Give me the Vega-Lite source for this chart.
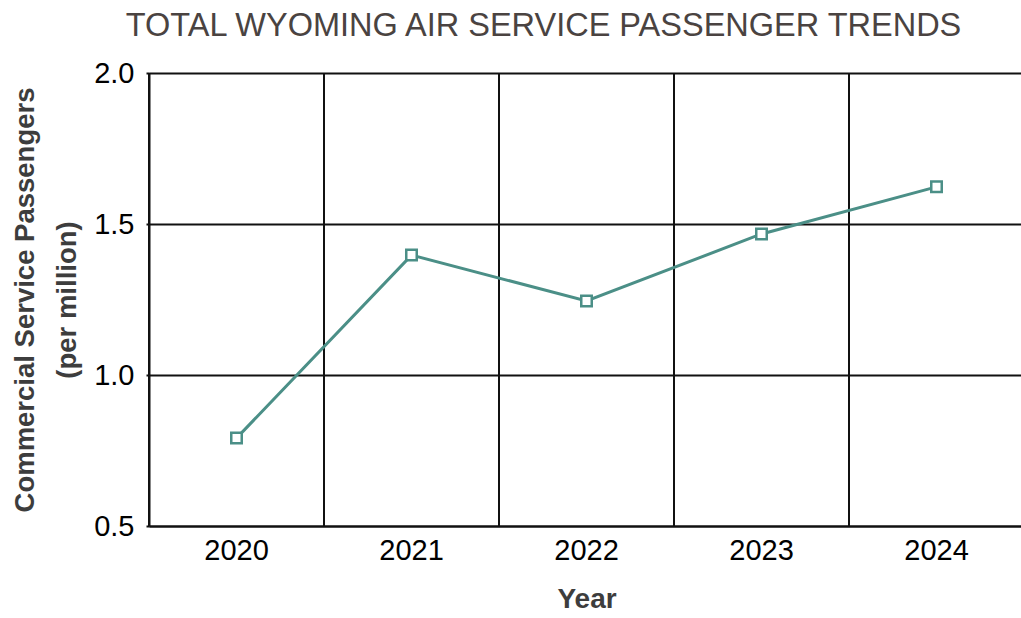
{
  "$schema": "https://vega.github.io/schema/vega-lite/v6.json",
  "width": 875,
  "height": 453,
  "autosize": {"type": "none"},
  "padding": {"left": 149, "top": 73, "right": 0, "bottom": 92},
  "background": "white",
  "config": {
    "view": {"stroke": null},
    "font": "Liberation Sans, Arial, sans-serif"
  },
  "title": {
    "text": "TOTAL WYOMING AIR SERVICE PASSENGER TRENDS",
    "font": "Liberation Sans, Arial, sans-serif",
    "fontSize": 32.5,
    "fontWeight": "normal",
    "color": "#4a4341",
    "anchor": "middle",
    "dx": -43,
    "offset": 17
  },
  "data": {
    "values": [
      {"year": "2020", "passengers": 0.791},
      {"year": "2021", "passengers": 1.397},
      {"year": "2022", "passengers": 1.245},
      {"year": "2023", "passengers": 1.467},
      {"year": "2024", "passengers": 1.623}
    ]
  },
  "layer": [
    {
      "mark": {"type": "rule", "color": "#111111", "strokeWidth": 2},
      "encoding": {
        "x": {
          "field": "year",
          "type": "ordinal",
          "bandPosition": 0,
          "title": "Year",
          "scale": {"type": "band", "paddingInner": 0, "paddingOuter": 0},
          "axis": {"bandPosition": 0.5}
        }
      }
    },
    {
      "mark": {"type": "line", "color": "#4b8f87", "strokeWidth": 3},
      "encoding": {
        "x": {
          "field": "year",
          "type": "ordinal",
          "title": "Year",
          "scale": {"type": "band", "paddingInner": 0, "paddingOuter": 0},
          "axis": {
            "bandPosition": 0.5,
            "labelAngle": 0,
            "labelAlign": "center",
            "ticks": false,
            "domainColor": "#111111",
            "domainWidth": 2,
            "labelFontSize": 29,
            "labelColor": "#000000",
            "labelPadding": 24,
            "titleFontSize": 28,
            "titleFontWeight": "bold",
            "titleColor": "#3d3d3d",
            "titlePadding": 20
          }
        },
        "y": {
          "field": "passengers",
          "type": "quantitative",
          "scale": {"domain": [0.5, 2.0], "nice": false, "zero": false},
          "axis": {
            "values": [0.5, 1.0, 1.5, 2.0],
            "format": ".1f",
            "title": ["Commercial Service Passengers", "(per million)"],
            "titleFontSize": 27.5,
            "titleFontWeight": "bold",
            "titleColor": "#3d3d3d",
            "titleLineHeight": 42,
            "titlePadding": 12,
            "labelFontSize": 29,
            "labelColor": "#000000",
            "labelPadding": 12,
            "tickSize": 3,
            "tickColor": "#111111",
            "tickWidth": 2,
            "domainColor": "#111111",
            "domainWidth": 2,
            "grid": true,
            "gridColor": "#111111",
            "gridWidth": 2
          }
        }
      }
    },
    {
      "mark": {
        "type": "point",
        "shape": "square",
        "filled": false,
        "fill": "white",
        "fillOpacity": 1,
        "opacity": 1,
        "stroke": "#4b8f87",
        "strokeWidth": 2.5,
        "size": 110
      },
      "encoding": {
        "x": {
          "field": "year",
          "type": "ordinal",
          "title": "Year",
          "scale": {"type": "band", "paddingInner": 0, "paddingOuter": 0}
        },
        "y": {"field": "passengers", "type": "quantitative"}
      }
    }
  ]
}
